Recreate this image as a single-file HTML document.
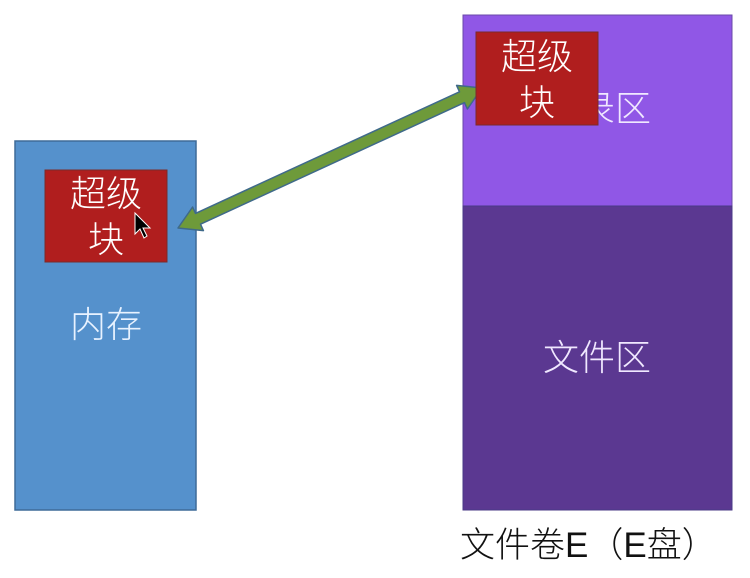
<!DOCTYPE html>
<html><head><meta charset="utf-8"><style>
html,body{margin:0;padding:0;background:#fff;}
svg{display:block;}
text{font-family:"Liberation Sans","Noto Sans CJK SC",sans-serif;font-weight:300;}
</style></head><body>
<svg width="750" height="578" viewBox="0 0 750 578" xmlns="http://www.w3.org/2000/svg">
<rect x="15" y="141" width="181" height="369" fill="#5591cc" stroke="#3e6b98" stroke-width="1.5"/>
<rect x="463" y="15" width="269" height="191" fill="#9057e6" stroke="#6a48a8" stroke-width="1"/>
<rect x="463" y="206" width="269" height="304" fill="#5b3891" stroke="#4a3a86" stroke-width="1"/>
<text x="597" y="121" font-size="36" fill="#f0e8ff" text-anchor="middle">目录区</text>
<text x="597" y="370" font-size="36" fill="#f0e8ff" text-anchor="middle">文件区</text>
<text x="106" y="337" font-size="36" fill="#e8f2ff" text-anchor="middle">内存</text>
<polygon points="178,228 192.6,207 195.5,213.4 459.5,91.8 456.6,85.4 482,88 467.4,109 464.5,102.6 200.5,224.2 203.4,230.6" fill="#6e9a3a" stroke="#3f6a8a" stroke-width="1.5" stroke-linejoin="round"/>
<rect x="45" y="170" width="122" height="92" fill="#b01e1e" stroke="#7a2a2a" stroke-width="1"/>
<text x="106" y="206" font-size="36" fill="#fff" text-anchor="middle">超级</text>
<text x="106" y="252" font-size="36" fill="#fff" text-anchor="middle">块</text>
<path d="M135 213 L135 234 L140 229 L144 238 L147 236 L143 228 L150 228 Z" fill="#000" stroke="#fff" stroke-width="1"/>
<rect x="476" y="32" width="122" height="93" fill="#b01e1e" stroke="#7a2a2a" stroke-width="1"/>
<text x="537" y="69" font-size="36" fill="#fff" text-anchor="middle">超级</text>
<text x="537" y="115" font-size="36" fill="#fff" text-anchor="middle">块</text>
<text x="460" y="557" font-size="35" fill="#111">文件卷E（E盘）</text>
</svg>
</body></html>
